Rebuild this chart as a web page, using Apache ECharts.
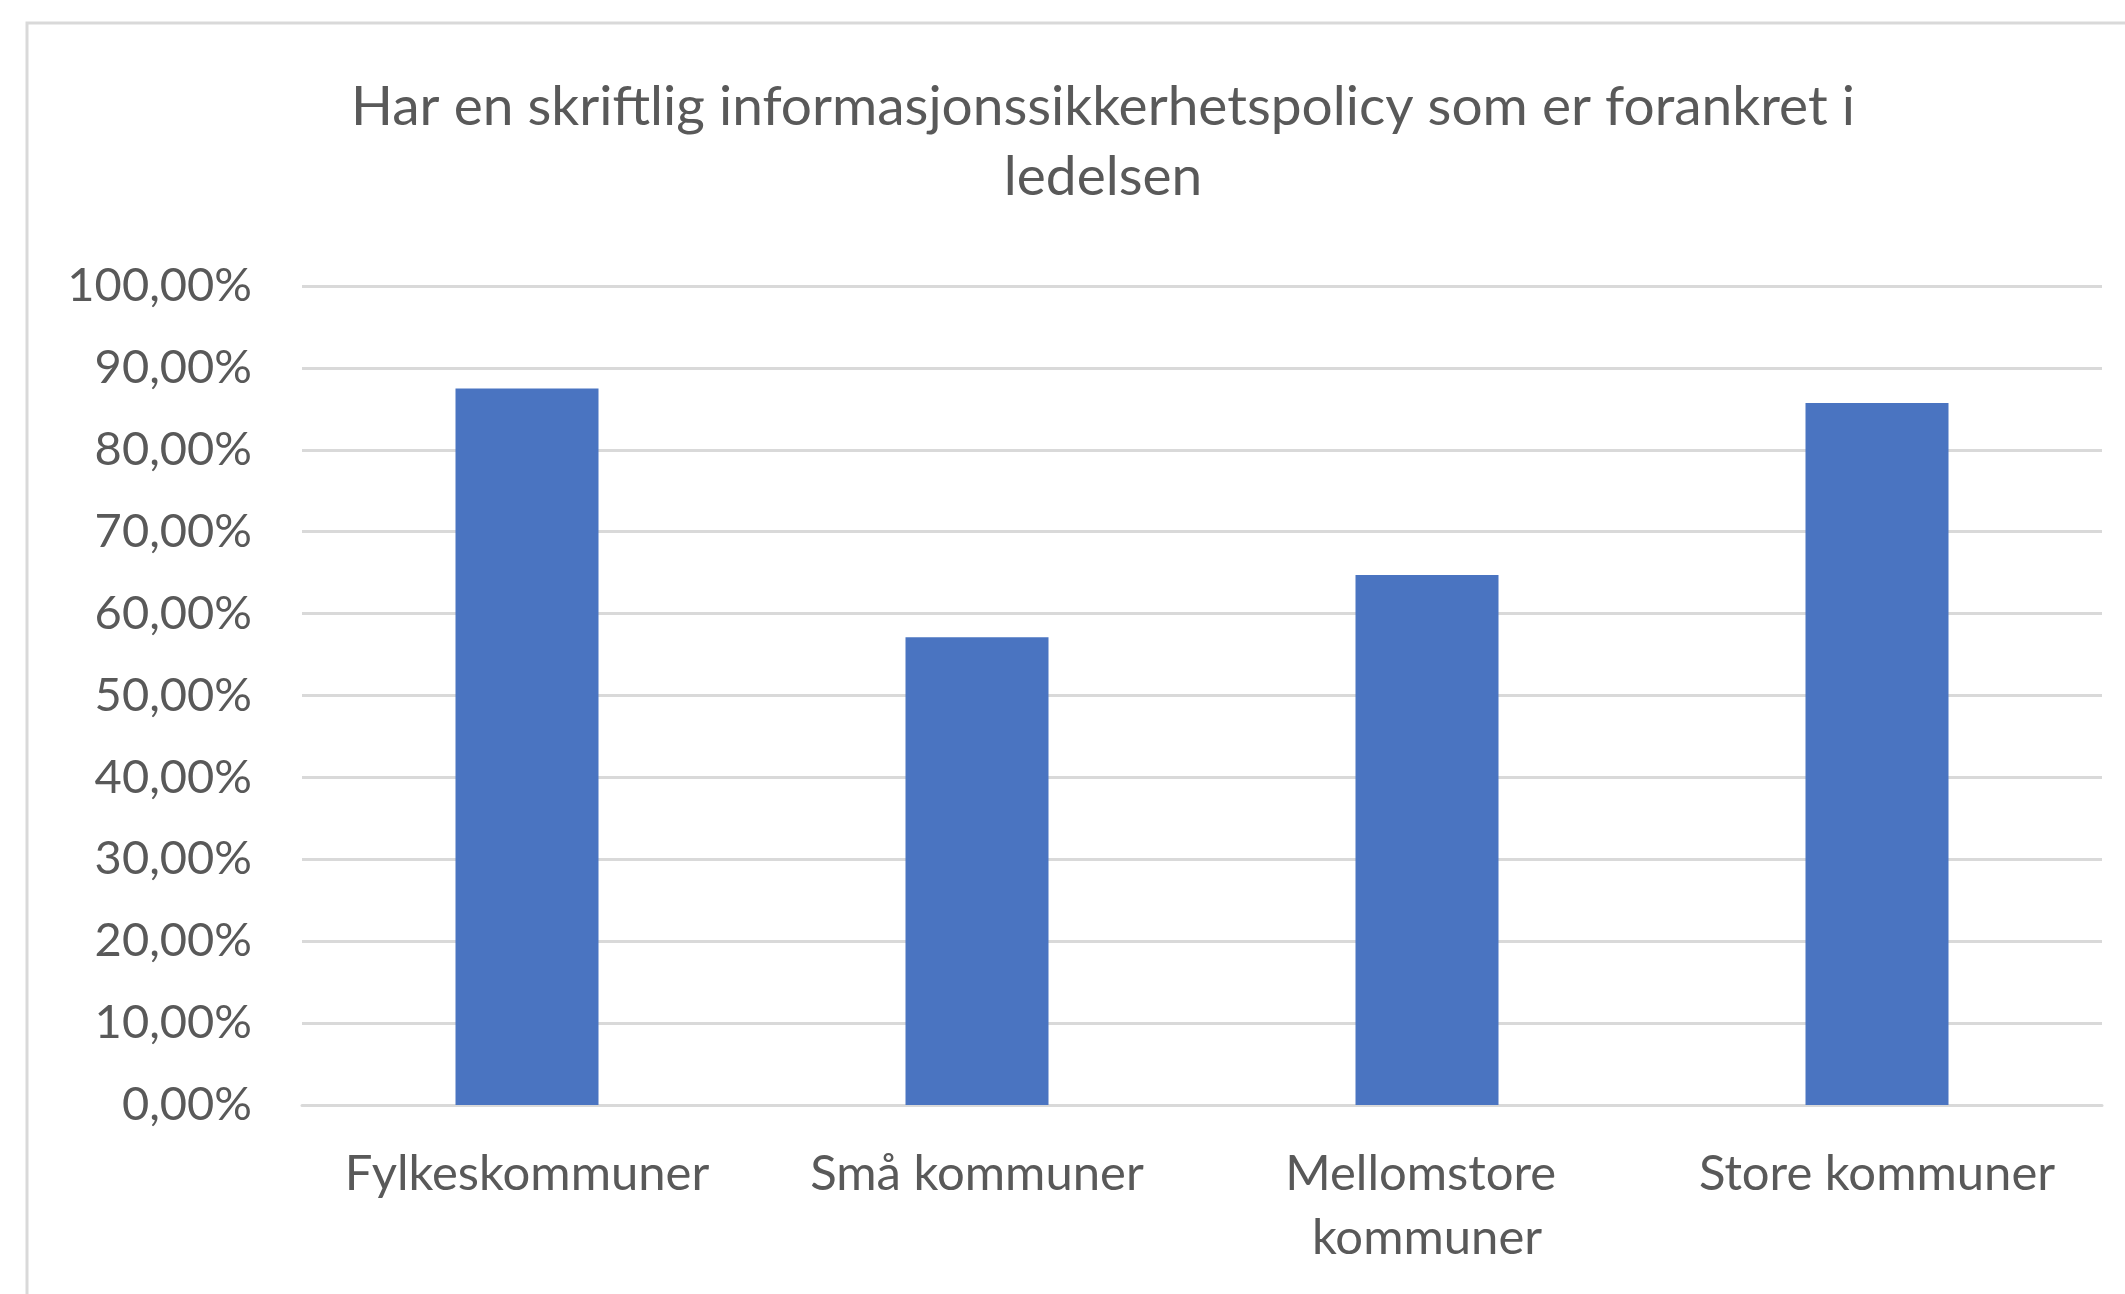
<!DOCTYPE html>
<html>
<head>
<meta charset="utf-8">
<script src="https://cdn.jsdelivr.net/npm/echarts@6/dist/echarts.min.js"></script>
<style>
  html, body { margin: 0; padding: 0; background: #fff; }
  #main { width: 2125px; height: 1294px; }
</style>
</head>
<body>
<div id="main"></div>
<script>
// data
const titleText = 'Har en skriftlig informasjonssikkerhetspolicy som er forankret i\nledelsen';
const categories = ['Fylkeskommuner', 'Små kommuner', 'Mellomstore kommuner', 'Store kommuner'];
const shares = [87.5, 57.1, 64.7, 85.7];

const textColor = '#595959';
const gridColor = '#d9d9d9';
const fontName = 'Lato, "Open Sans", sans-serif';

const chart = echarts.init(document.getElementById('main'));
chart.setOption({
  animation: false,
  graphic: [{
    type: 'rect',
    shape: { x: 27, y: 23, width: 2200, height: 1400 },
    style: { fill: 'none', stroke: gridColor, lineWidth: 3 },
    silent: true
  }],
  title: {
    text: titleText,
    left: 1098,
    top: 67,
    textAlign: 'center',
    textStyle: {
      color: textColor,
      fontFamily: fontName,
      fontWeight: 'normal',
      fontSize: 55,
      lineHeight: 70
    }
  },
  grid: { left: 302, right: 23, top: 286, bottom: 189, containLabel: false },
  xAxis: {
    type: 'category',
    data: categories,
    axisLine: { lineStyle: { color: gridColor, width: 3 } },
    axisTick: { show: false },
    axisLabel: {
      color: textColor,
      fontFamily: fontName,
      fontSize: 49,
      lineHeight: 64,
      margin: 37,
      width: 430,
      overflow: 'break',
      interval: 0
    }
  },
  yAxis: {
    type: 'value',
    min: 0,
    max: 100,
    interval: 10,
    axisLine: { show: false },
    axisTick: { show: false },
    splitLine: { lineStyle: { color: gridColor, width: 3 } },
    axisLabel: {
      color: textColor,
      fontFamily: fontName,
      fontSize: 47,
      margin: 50,
      formatter: v => v.toFixed(2).replace('.', ',') + '%'
    }
  },
  series: [{
    type: 'bar',
    data: shares,
    barWidth: 143,
    itemStyle: { color: '#4a74c1' }
  }]
});
</script>
</body>
</html>
